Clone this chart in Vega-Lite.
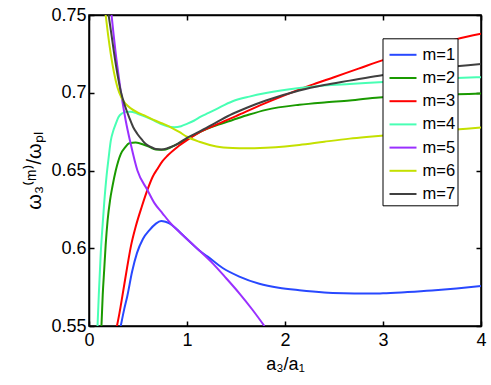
{
  "$schema": "https://vega.github.io/schema/vega-lite/v6.json",
  "width": 392,
  "height": 311,
  "autosize": {"type": "none"},
  "padding": {"left": 89, "top": 15, "right": 10, "bottom": 59},
  "background": "white",
  "config": {
    "font": "Liberation Sans",
    "view": {"stroke": "black", "strokeWidth": 1.5},
    "axis": {
      "domainColor": "black", "domainWidth": 1.5,
      "tickColor": "black", "tickWidth": 1.5, "tickSize": -5,
      "labelColor": "black", "labelFontSize": 18, "labelFont": "Liberation Sans",
      "titleColor": "black", "titleFontSize": 18, "titleFont": "Liberation Sans", "titleFontWeight": "normal",
      "grid": false, "labelOverlap": false, "labelFlush": false
    },
    "legend": {
      "orient": "none", "legendX": 293.5, "legendY": 23.3,
      "strokeColor": "black", "fillColor": "white", "padding": 2,
      "symbolType": "stroke", "symbolSize": 729, "symbolStrokeWidth": 2, "symbolOffset": 4,
      "labelFontSize": 16.5, "labelColor": "black", "labelOffset": 5,
      "rowPadding": 0.2, "labelFont": "Liberation Sans"
    }
  },
  "data": {"values": [
    {"m":"m=1","x":0.324,"y":0.55},{"m":"m=1","x":0.36,"y":0.561},{"m":"m=1","x":0.39,"y":0.569},{"m":"m=1","x":0.44,"y":0.585},{"m":"m=1","x":0.49,"y":0.597},{"m":"m=1","x":0.55,"y":0.606},{"m":"m=1","x":0.617,"y":0.6117},{"m":"m=1","x":0.68,"y":0.6157},{"m":"m=1","x":0.736,"y":0.6175},{"m":"m=1","x":0.78,"y":0.617},{"m":"m=1","x":0.82,"y":0.616},{"m":"m=1","x":0.89,"y":0.6125},{"m":"m=1","x":0.956,"y":0.6085},{"m":"m=1","x":1.04,"y":0.6035},{"m":"m=1","x":1.126,"y":0.5985},{"m":"m=1","x":1.211,"y":0.5946},{"m":"m=1","x":1.364,"y":0.5873},{"m":"m=1","x":1.534,"y":0.5818},{"m":"m=1","x":1.738,"y":0.5772},{"m":"m=1","x":1.935,"y":0.5746},{"m":"m=1","x":2.146,"y":0.573},{"m":"m=1","x":2.4,"y":0.5716},{"m":"m=1","x":2.6,"y":0.5711},{"m":"m=1","x":2.8,"y":0.5709},{"m":"m=1","x":3.0,"y":0.571},{"m":"m=1","x":3.25,"y":0.5718},{"m":"m=1","x":3.5,"y":0.5728},{"m":"m=1","x":3.75,"y":0.5741},{"m":"m=1","x":4.0,"y":0.5757},

    {"m":"m=2","x":0.127,"y":0.55},{"m":"m=2","x":0.14,"y":0.57},{"m":"m=2","x":0.155,"y":0.586},{"m":"m=2","x":0.17,"y":0.602},{"m":"m=2","x":0.19,"y":0.618},{"m":"m=2","x":0.215,"y":0.631},{"m":"m=2","x":0.24,"y":0.64},{"m":"m=2","x":0.273,"y":0.65},{"m":"m=2","x":0.324,"y":0.6606},{"m":"m=2","x":0.37,"y":0.665},{"m":"m=2","x":0.41,"y":0.6675},{"m":"m=2","x":0.477,"y":0.668},{"m":"m=2","x":0.56,"y":0.6666},{"m":"m=2","x":0.62,"y":0.665},{"m":"m=2","x":0.68,"y":0.6635},{"m":"m=2","x":0.766,"y":0.6633},{"m":"m=2","x":0.82,"y":0.6645},{"m":"m=2","x":0.87,"y":0.666},{"m":"m=2","x":1.0,"y":0.67},{"m":"m=2","x":1.126,"y":0.6745},{"m":"m=2","x":1.3,"y":0.679},{"m":"m=2","x":1.466,"y":0.6825},{"m":"m=2","x":1.636,"y":0.686},{"m":"m=2","x":1.806,"y":0.689},{"m":"m=2","x":2.146,"y":0.6923},{"m":"m=2","x":2.4,"y":0.6938},{"m":"m=2","x":2.66,"y":0.695},{"m":"m=2","x":2.96,"y":0.697},{"m":"m=2","x":3.25,"y":0.6978},{"m":"m=2","x":3.5,"y":0.6985},{"m":"m=2","x":3.75,"y":0.699},{"m":"m=2","x":4.0,"y":0.6995},

    {"m":"m=3","x":0.285,"y":0.55},{"m":"m=3","x":0.31,"y":0.558},{"m":"m=3","x":0.34,"y":0.569},{"m":"m=3","x":0.39,"y":0.588},{"m":"m=3","x":0.43,"y":0.602},{"m":"m=3","x":0.477,"y":0.614},{"m":"m=3","x":0.54,"y":0.627},{"m":"m=3","x":0.596,"y":0.6375},{"m":"m=3","x":0.65,"y":0.646},{"m":"m=3","x":0.698,"y":0.651},{"m":"m=3","x":0.75,"y":0.656},{"m":"m=3","x":0.8,"y":0.6595},{"m":"m=3","x":0.9,"y":0.665},{"m":"m=3","x":1.0,"y":0.6695},{"m":"m=3","x":1.126,"y":0.6745},{"m":"m=3","x":1.3,"y":0.6795},{"m":"m=3","x":1.5,"y":0.685},{"m":"m=3","x":1.75,"y":0.692},{"m":"m=3","x":2.0,"y":0.6985},{"m":"m=3","x":2.25,"y":0.7045},{"m":"m=3","x":2.5,"y":0.71},{"m":"m=3","x":2.75,"y":0.7155},{"m":"m=3","x":3.0,"y":0.721},{"m":"m=3","x":3.25,"y":0.7255},{"m":"m=3","x":3.5,"y":0.73},{"m":"m=3","x":3.75,"y":0.7345},{"m":"m=3","x":4.0,"y":0.738},

    {"m":"m=4","x":0.087,"y":0.55},{"m":"m=4","x":0.1,"y":0.57},{"m":"m=4","x":0.12,"y":0.597},{"m":"m=4","x":0.14,"y":0.616},{"m":"m=4","x":0.155,"y":0.629},{"m":"m=4","x":0.18,"y":0.647},{"m":"m=4","x":0.2,"y":0.658},{"m":"m=4","x":0.222,"y":0.669},{"m":"m=4","x":0.25,"y":0.676},{"m":"m=4","x":0.273,"y":0.68},{"m":"m=4","x":0.3,"y":0.6843},{"m":"m=4","x":0.34,"y":0.6868},{"m":"m=4","x":0.38,"y":0.6877},{"m":"m=4","x":0.426,"y":0.6878},{"m":"m=4","x":0.49,"y":0.6867},{"m":"m=4","x":0.56,"y":0.685},{"m":"m=4","x":0.65,"y":0.6825},{"m":"m=4","x":0.73,"y":0.68},{"m":"m=4","x":0.8,"y":0.6784},{"m":"m=4","x":0.87,"y":0.6778},{"m":"m=4","x":0.94,"y":0.6785},{"m":"m=4","x":1.0,"y":0.68},{"m":"m=4","x":1.07,"y":0.682},{"m":"m=4","x":1.14,"y":0.6846},{"m":"m=4","x":1.22,"y":0.687},{"m":"m=4","x":1.3,"y":0.6895},{"m":"m=4","x":1.466,"y":0.6945},{"m":"m=4","x":1.636,"y":0.6975},{"m":"m=4","x":1.806,"y":0.6998},{"m":"m=4","x":2.146,"y":0.703},{"m":"m=4","x":2.4,"y":0.7046},{"m":"m=4","x":2.66,"y":0.7056},{"m":"m=4","x":2.96,"y":0.7067},{"m":"m=4","x":3.25,"y":0.7078},{"m":"m=4","x":3.5,"y":0.7087},{"m":"m=4","x":3.75,"y":0.7095},{"m":"m=4","x":4.0,"y":0.71},

    {"m":"m=5","x":0.23,"y":0.75},{"m":"m=5","x":0.25,"y":0.738},{"m":"m=5","x":0.273,"y":0.725},{"m":"m=5","x":0.3,"y":0.712},{"m":"m=5","x":0.324,"y":0.701},{"m":"m=5","x":0.35,"y":0.691},{"m":"m=5","x":0.375,"y":0.682},{"m":"m=5","x":0.426,"y":0.667},{"m":"m=5","x":0.494,"y":0.65},{"m":"m=5","x":0.596,"y":0.6375},{"m":"m=5","x":0.668,"y":0.629},{"m":"m=5","x":0.75,"y":0.6225},{"m":"m=5","x":0.82,"y":0.617},{"m":"m=5","x":0.956,"y":0.6085},{"m":"m=5","x":1.04,"y":0.6035},{"m":"m=5","x":1.126,"y":0.5985},{"m":"m=5","x":1.262,"y":0.5903},{"m":"m=5","x":1.4,"y":0.5807},{"m":"m=5","x":1.534,"y":0.571},{"m":"m=5","x":1.67,"y":0.5603},{"m":"m=5","x":1.79,"y":0.55},

    {"m":"m=6","x":0.17,"y":0.75},{"m":"m=6","x":0.195,"y":0.737},{"m":"m=6","x":0.222,"y":0.725},{"m":"m=6","x":0.255,"y":0.713},{"m":"m=6","x":0.29,"y":0.7035},{"m":"m=6","x":0.33,"y":0.697},{"m":"m=6","x":0.375,"y":0.6928},{"m":"m=6","x":0.43,"y":0.6898},{"m":"m=6","x":0.494,"y":0.6874},{"m":"m=6","x":0.58,"y":0.685},{"m":"m=6","x":0.66,"y":0.6825},{"m":"m=6","x":0.75,"y":0.6802},{"m":"m=6","x":0.834,"y":0.6778},{"m":"m=6","x":0.92,"y":0.6748},{"m":"m=6","x":1.0,"y":0.6717},{"m":"m=6","x":1.126,"y":0.6685},{"m":"m=6","x":1.3,"y":0.6655},{"m":"m=6","x":1.466,"y":0.6645},{"m":"m=6","x":1.6,"y":0.6643},{"m":"m=6","x":1.806,"y":0.6647},{"m":"m=6","x":2.0,"y":0.6655},{"m":"m=6","x":2.146,"y":0.6664},{"m":"m=6","x":2.4,"y":0.6685},{"m":"m=6","x":2.66,"y":0.6705},{"m":"m=6","x":2.86,"y":0.6717},{"m":"m=6","x":3.2,"y":0.6735},{"m":"m=6","x":3.5,"y":0.675},{"m":"m=6","x":3.78,"y":0.6765},{"m":"m=6","x":4.0,"y":0.6777},

    {"m":"m=7","x":0.2,"y":0.75},{"m":"m=7","x":0.23,"y":0.737},{"m":"m=7","x":0.257,"y":0.725},{"m":"m=7","x":0.29,"y":0.712},{"m":"m=7","x":0.324,"y":0.701},{"m":"m=7","x":0.365,"y":0.692},{"m":"m=7","x":0.41,"y":0.6842},{"m":"m=7","x":0.45,"y":0.678},{"m":"m=7","x":0.494,"y":0.6735},{"m":"m=7","x":0.54,"y":0.6698},{"m":"m=7","x":0.58,"y":0.667},{"m":"m=7","x":0.63,"y":0.6652},{"m":"m=7","x":0.68,"y":0.6638},{"m":"m=7","x":0.74,"y":0.6635},{"m":"m=7","x":0.8,"y":0.6643},{"m":"m=7","x":0.85,"y":0.6655},{"m":"m=7","x":0.9,"y":0.667},{"m":"m=7","x":1.0,"y":0.671},{"m":"m=7","x":1.126,"y":0.675},{"m":"m=7","x":1.3,"y":0.681},{"m":"m=7","x":1.466,"y":0.6865},{"m":"m=7","x":1.636,"y":0.691},{"m":"m=7","x":1.806,"y":0.695},{"m":"m=7","x":2.146,"y":0.7015},{"m":"m=7","x":2.4,"y":0.705},{"m":"m=7","x":2.66,"y":0.7078},{"m":"m=7","x":2.96,"y":0.711},{"m":"m=7","x":3.25,"y":0.7135},{"m":"m=7","x":3.5,"y":0.7155},{"m":"m=7","x":3.75,"y":0.717},{"m":"m=7","x":4.0,"y":0.7185}
  ]},
  "layer": [
    {
      "mark": {"type": "line", "clip": true, "strokeWidth": 2, "interpolate": "monotone"},
      "encoding": {
        "x": {"field": "x", "type": "quantitative", "scale": {"domain": [0, 4], "nice": false, "zero": false},
              "axis": {"orient": "bottom", "values": [0, 1, 2, 3, 4], "title": "a₃/a₁", "labelPadding": 10, "titlePadding": 6}},
        "y": {"field": "y", "type": "quantitative", "scale": {"domain": [0.55, 0.75], "nice": false, "zero": false},
              "axis": {"orient": "left", "values": [0.55, 0.6, 0.65, 0.7, 0.75], "format": "~g", "title": "ω₃⁽ᵐ⁾/ωₚₗ", "titleFontSize": 20, "labelPadding": 8, "titlePadding": 6}},
        "color": {"field": "m", "type": "nominal", "title": null,
                  "scale": {"domain": ["m=1","m=2","m=3","m=4","m=5","m=6","m=7"],
                            "range": ["#2848ff","#1a9a00","#ff0000","#48ffb4","#9a30ff","#c4e000","#404040"]}}
      }
    },
    {
      "mark": {"type": "line", "opacity": 0},
      "encoding": {
        "x": {"field": "x", "type": "quantitative", "axis": {"orient": "top", "values": [0, 1, 2, 3, 4], "labels": false, "title": null}},
        "y": {"field": "y", "type": "quantitative", "axis": {"orient": "right", "values": [0.55, 0.6, 0.65, 0.7, 0.75], "labels": false, "title": null}},
        "detail": {"field": "m"}
      }
    }
  ],
  "resolve": {"axis": {"x": "independent", "y": "independent"}}
}
